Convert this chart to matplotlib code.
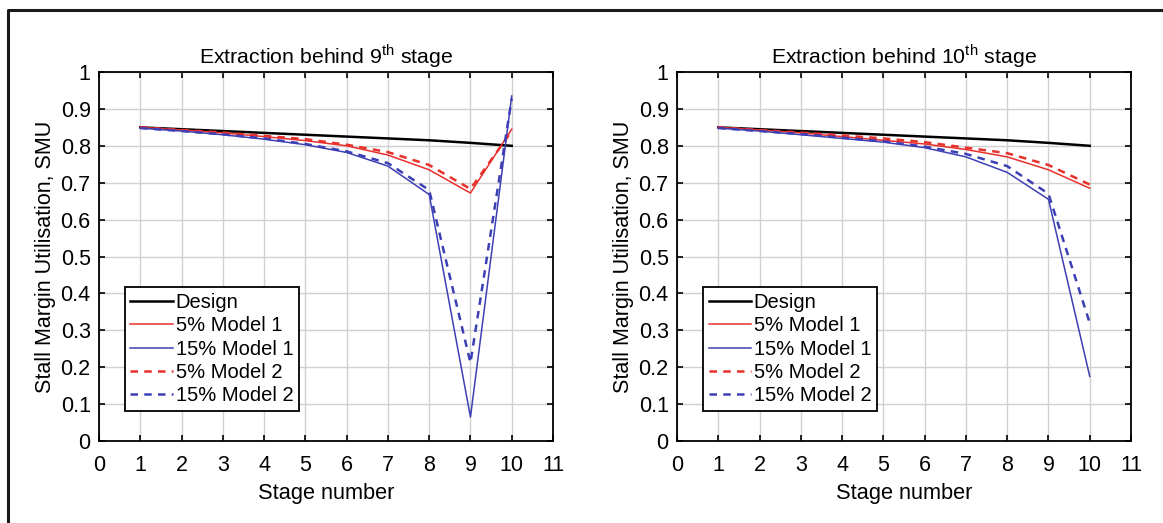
import numpy as np
import matplotlib.pyplot as plt
from matplotlib.lines import Line2D

plt.rcParams['font.family'] = ['Liberation Sans', 'DejaVu Sans']
plt.rcParams['mathtext.fontset'] = 'custom'
plt.rcParams['mathtext.rm'] = 'Liberation Sans'

stages = [1, 2, 3, 4, 5, 6, 7, 8, 9, 10]
labels = ['Design', '5% Model 1', '15% Model 1', '5% Model 2', '15% Model 2']

# extraction behind 9th stage
design_9 = [0.85, 0.845, 0.84, 0.835, 0.83, 0.825, 0.82, 0.815, 0.808, 0.80]
m1_5_9 = [0.85, 0.843, 0.835, 0.825, 0.814, 0.80, 0.775, 0.735, 0.672, 0.845]
m1_15_9 = [0.848, 0.84, 0.83, 0.818, 0.803, 0.782, 0.745, 0.668, 0.065, 0.935]
m2_5_9 = [0.85, 0.843, 0.836, 0.827, 0.818, 0.803, 0.783, 0.748, 0.683, 0.84]
m2_15_9 = [0.848, 0.84, 0.831, 0.82, 0.805, 0.785, 0.753, 0.68, 0.212, 0.928]

# extraction behind 10th stage
design_10 = [0.85, 0.845, 0.84, 0.835, 0.83, 0.825, 0.82, 0.815, 0.808, 0.80]
m1_5_10 = [0.85, 0.843, 0.835, 0.825, 0.815, 0.805, 0.79, 0.77, 0.735, 0.685]
m1_15_10 = [0.848, 0.84, 0.83, 0.82, 0.81, 0.795, 0.77, 0.728, 0.655, 0.175]
m2_5_10 = [0.85, 0.843, 0.836, 0.828, 0.82, 0.81, 0.795, 0.78, 0.748, 0.695]
m2_15_10 = [0.848, 0.84, 0.832, 0.822, 0.812, 0.798, 0.778, 0.745, 0.67, 0.32]

RED = '#e8302c'
BLUE = '#3d3fb5'


def draw(ax, series, title):
    d, a, b, c, e = series
    ax.plot(stages, d, color='black', lw=1.8)
    ax.plot(stages, a, color=RED, lw=1.1)
    ax.plot(stages, b, color=BLUE, lw=1.1)
    ax.plot(stages, c, color=RED, lw=1.8, ls=(0, (3, 2.5)))
    ax.plot(stages, e, color=BLUE, lw=1.8, ls=(0, (3, 2.5)))
    ax.set_xlim(0, 11)
    ax.set_ylim(0, 1)
    ax.set_xticks(np.arange(0, 12))
    ax.set_yticks(np.arange(0, 1.01, 0.1))
    ax.set_yticklabels(['0', '0.1', '0.2', '0.3', '0.4', '0.5', '0.6', '0.7', '0.8', '0.9', '1'])
    ax.grid(True, color='#d0d0d0', lw=1.0)
    ax.tick_params(direction='in', top=True, right=True, length=4, width=1.2,
                   labelsize=15.5)
    ax.tick_params(axis='x', pad=10)
    ax.tick_params(axis='y', pad=6)
    for s in ax.spines.values():
        s.set_linewidth(1.3)
    ax.set_title(title, fontsize=15.3, pad=6)
    ax.set_xlabel('Stage number', fontsize=15.7, labelpad=5)
    ax.set_ylabel('Stall Margin Utilisation, SMU', fontsize=15.5, labelpad=3)
    leg = ax.legend(labels, loc='upper left', bbox_to_anchor=(0.057, 0.417),
                    borderaxespad=0, fontsize=14.5, handlelength=2.1,
                    handletextpad=0.15, labelspacing=0.22, borderpad=0.28,
                    fancybox=False, framealpha=1, edgecolor='black')
    leg.get_frame().set_linewidth(1.3)


fig = plt.figure(figsize=(11.63, 5.23), dpi=100)
ax1 = fig.add_axes([0.0851, 0.1568, 0.3904, 0.7055])
ax2 = fig.add_axes([0.5821, 0.1568, 0.3904, 0.7055])

draw(ax1, [design_9, m1_5_9, m1_15_9, m2_5_9, m2_15_9],
     r'Extraction behind 9$^{\mathrm{th}}$ stage')
draw(ax2, [design_10, m1_5_10, m1_15_10, m2_5_10, m2_15_10],
     r'Extraction behind 10$^{\mathrm{th}}$ stage')

# outer frame
fx = 8 / 1163
fy = 1 - 10 / 523
fig.add_artist(Line2D([fx, fx, 1], [0, fy, fy], transform=fig.transFigure,
                      color='#1a1a1a', lw=2.2))

fig.savefig('out.png', dpi=100)
